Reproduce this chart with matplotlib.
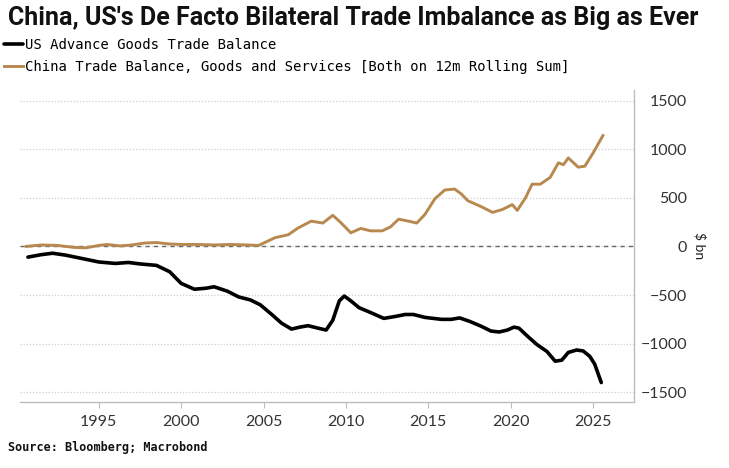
import matplotlib
matplotlib.use("Agg")
import matplotlib.pyplot as plt

# US advance goods trade balance, 12m rolling sum ($ bn)
us_years = [1990.7, 1991.5, 1992.2, 1993.0, 1994.0, 1995.0, 1996.0, 1996.8, 1997.5, 1998.5,
            1999.3, 2000.0, 2000.8, 2001.5, 2002.0, 2002.8, 2003.5, 2004.2, 2004.8, 2005.5,
            2006.1, 2006.7, 2007.2, 2007.7, 2008.3, 2008.8, 2009.2, 2009.6, 2009.9, 2010.3,
            2010.8, 2011.5, 2012.3, 2013.0, 2013.6, 2014.1, 2014.8, 2015.8, 2016.4, 2016.9,
            2017.5, 2018.2, 2018.8, 2019.3, 2019.8, 2020.2, 2020.5, 2021.0, 2021.6, 2022.2,
            2022.7, 2023.1, 2023.5, 2024.0, 2024.4, 2024.8, 2025.1, 2025.5]
us_vals = [-110, -85, -70, -90, -125, -160, -175, -165, -180, -195,
           -260, -380, -440, -430, -415, -460, -520, -550, -600, -700,
           -790, -850, -830, -815, -840, -860, -760, -560, -510, -560,
           -630, -680, -740, -720, -700, -700, -730, -750, -750, -735,
           -770, -820, -870, -880, -860, -830, -840, -920, -1010, -1080,
           -1180, -1170, -1090, -1065, -1075, -1130, -1210, -1400]

# China trade balance, goods and services, 12m rolling sum ($ bn)
cn_years = [1990.6, 1991.5, 1992.5, 1993.5, 1994.2, 1995.0, 1995.5, 1996.3, 1997.0, 1997.8,
            1998.5, 1999.3, 2000.0, 2001.0, 2002.0, 2003.0, 2004.0, 2004.7, 2005.2, 2005.7,
            2006.5, 2007.1, 2007.9, 2008.6, 2009.2, 2009.6, 2010.3, 2010.9, 2011.5, 2012.2,
            2012.7, 2013.2, 2013.8, 2014.3, 2014.8, 2015.4, 2016.0, 2016.6, 2017.0, 2017.4,
            2018.2, 2018.9, 2019.5, 2020.1, 2020.4, 2020.9, 2021.3, 2021.8, 2022.4, 2022.9,
            2023.2, 2023.5, 2024.1, 2024.5, 2025.0, 2025.6]
cn_vals = [0, 15, 10, -10, -15, 10, 20, 5, 15, 35,
           40, 25, 20, 20, 15, 20, 15, 10, 50, 90,
           120, 190, 260, 240, 320, 260, 140, 185, 160, 160,
           200, 280, 260, 240, 330, 490, 580, 590, 540, 470,
           410, 350, 380, 430, 370, 500, 640, 640, 710, 860,
           840, 910, 815, 825, 960, 1140]

year_ticks = [1995, 2000, 2005, 2010, 2015, 2020, 2025]
val_ticks = [-1500, -1000, -500, 0, 500, 1000, 1500]

TAN = "#B8894F"
MONO = ["DejaVu Sans Mono"]
TITLEF = ["Roboto", "DejaVu Sans"]
TICKF = ["Lato", "DejaVu Sans"]

fig = plt.figure(figsize=(7.29, 4.68), dpi=100)
ax = fig.add_axes([0.027, 0.141, 0.843, 0.667])

l1, = ax.plot(us_years, us_vals, color="black", lw=2.6, solid_capstyle="round",
              label="US Advance Goods Trade Balance", zorder=5)
l2, = ax.plot(cn_years, cn_vals, color=TAN, lw=2.1,
              label="China Trade Balance, Goods and Services [Both on 12m Rolling Sum]", zorder=4)

ax.axhline(0, color="#666666", lw=1.0, linestyle=(0, (3, 3)), zorder=3)

ax.set_xlim(1990.2, 2027.5)
ax.set_ylim(-1600, 1610)
ax.set_xticks(year_ticks)
ax.set_yticks(val_ticks)
ax.yaxis.tick_right()
ax.yaxis.grid(True, linestyle=(0, (1, 1.5)), color="#cfcfcf", lw=0.9)

for s in ["left", "top"]:
    ax.spines[s].set_visible(False)
for s in ["bottom", "right"]:
    ax.spines[s].set_color("#bdbdbd")
    ax.spines[s].set_linewidth(1.0)

ax.tick_params(axis="x", length=4, color="#bdbdbd", pad=5, labelsize=11.5, labelcolor="#333333")
ax.tick_params(axis="y", length=0, pad=38, labelsize=11.5, labelcolor="#333333")
for t in ax.get_yticklabels():
    t.set_horizontalalignment("right")
    t.set_family(TICKF)
for t in ax.get_xticklabels():
    t.set_family(TICKF)

ax.text(1.107, 0.5, "$ bn", transform=ax.transAxes, rotation=270, ha="center", va="center",
        fontsize=10, color="#222222", family=TICKF)

fig.text(0.011, 1 - 18 / 468, "China, US's De Facto Bilateral Trade Imbalance as Big as Ever",
         fontsize=18, fontweight="bold", family=TITLEF, ha="left", va="center", color="#111111")

fig.legend(handles=[l1, l2], loc="upper left", bbox_to_anchor=(0.005, 1 - 38 / 468),
           frameon=False, prop={"family": MONO, "size": 10}, handlelength=1.4,
           handletextpad=0.15, labelspacing=0.6, borderaxespad=0, borderpad=0)

fig.text(0.011, 1 - 447 / 468, "Source: Bloomberg; Macrobond", fontsize=8.5,
         fontweight="bold", family=MONO, ha="left", va="center", color="#111111")

fig.savefig("out.png", dpi=100, facecolor="white")
